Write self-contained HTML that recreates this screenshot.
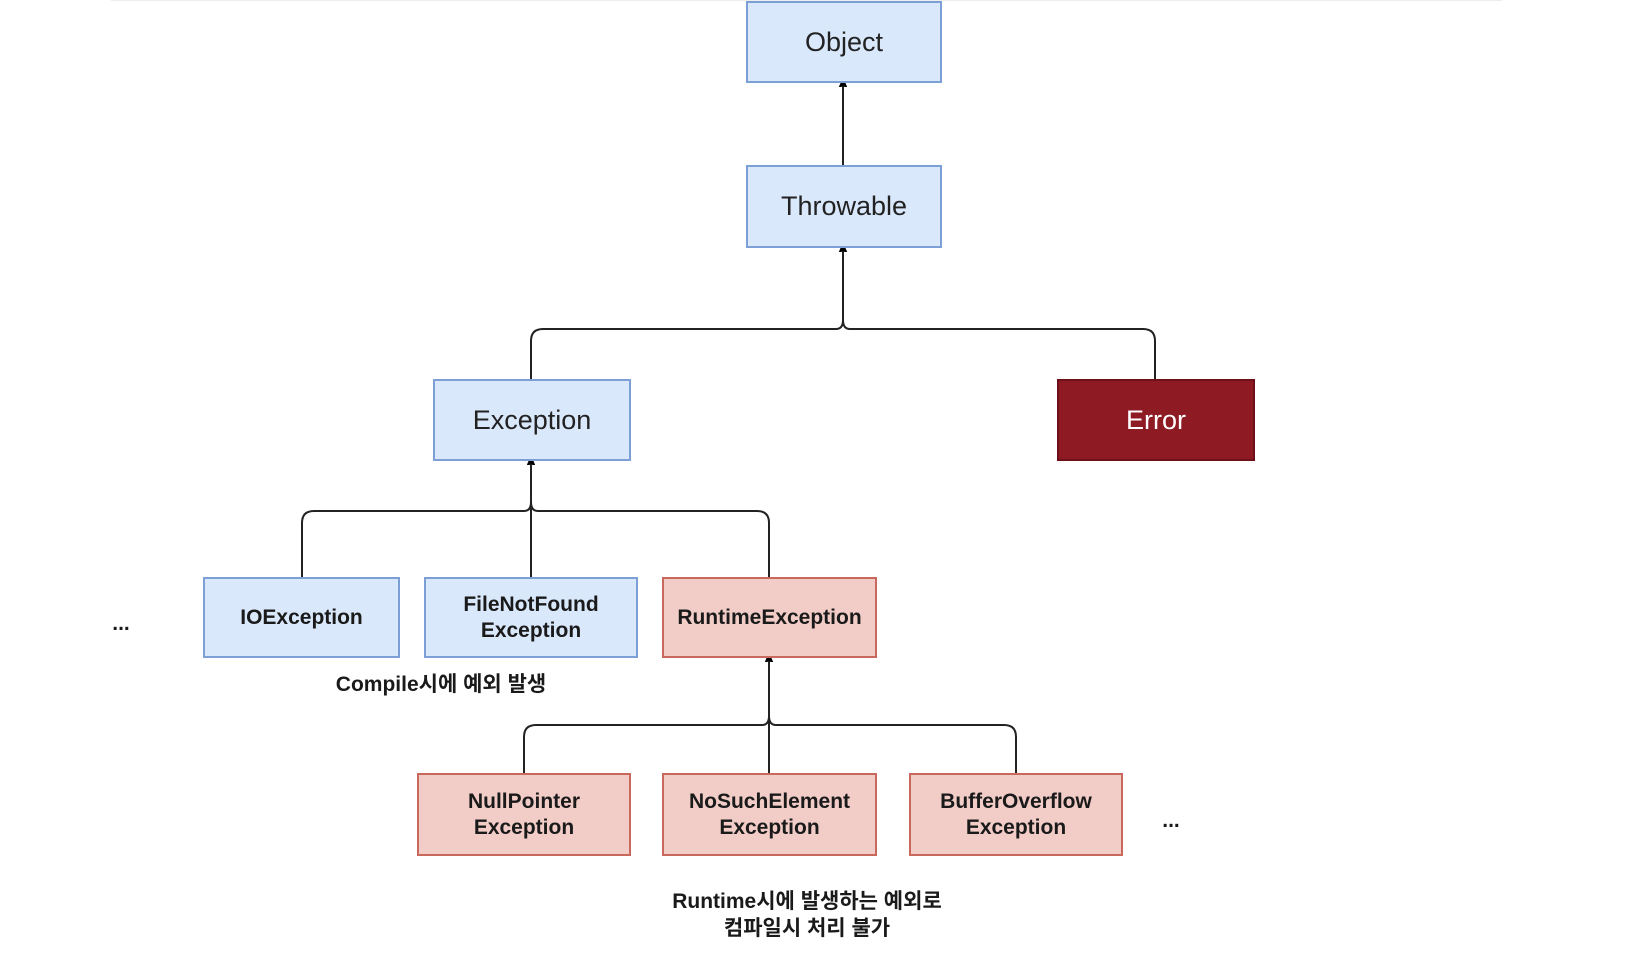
<!DOCTYPE html>
<html><head><meta charset="utf-8"><style>
html,body{margin:0;padding:0;background:#fff;}
body{width:1650px;height:970px;position:relative;overflow:hidden;font-family:"Liberation Sans","Noto Sans CJK KR",sans-serif;}
.n{position:absolute;box-sizing:border-box;display:flex;align-items:center;justify-content:center;text-align:center;color:#222;}
.b{background:#dae8fc;border:2px solid #7c9fd6;}
.r{background:#f2cdc8;border:2px solid #c9685c;}
.big{font-size:27px;}
.sm{font-size:21px;font-weight:bold;line-height:26px;color:#1a1a1a;}
.t{position:absolute;font-size:21px;font-weight:bold;color:#1a1a1a;text-align:center;line-height:27px;}
</style></head><body>
<div style="position:absolute;left:111px;top:0;width:1391px;height:1px;background:#eee"></div>
<svg width="1650" height="970" style="position:absolute;left:0;top:0">
<defs><marker id="a" markerWidth="10" markerHeight="10" refX="5" refY="9" orient="0" markerUnits="userSpaceOnUse"><path d="M0,12 L5,0 L10,12 L5,9 Z" fill="#000"/></marker></defs>
<g fill="none" stroke="#222" stroke-width="2">
<path d="M843,165 L843,86" marker-end="url(#a)"/>
<path d="M531,379 L531,341 Q531,329 543,329 L836,329 Q843,329 843,320 L843,251" marker-end="url(#a)"/>
<path d="M1155,379 L1155,341 Q1155,329 1143,329 L850,329 Q843,329 843,320"/>
<path d="M302,577 L302,523 Q302,511 314,511 L524,511 Q531,511 531,502 L531,464" marker-end="url(#a)"/>
<path d="M531,577 L531,502"/>
<path d="M769,577 L769,523 Q769,511 757,511 L538,511 Q531,511 531,502"/>
<path d="M524,773 L524,737 Q524,725 536,725 L762,725 Q769,725 769,716 L769,661" marker-end="url(#a)"/>
<path d="M769,773 L769,716"/>
<path d="M1016,773 L1016,737 Q1016,725 1004,725 L776,725 Q769,725 769,716"/>
</g></svg>
<div class="n b big" style="left:746px;top:1px;width:196px;height:82px">Object</div>
<div class="n b big" style="left:746px;top:165px;width:196px;height:83px">Throwable</div>
<div class="n b big" style="left:433px;top:379px;width:198px;height:82px">Exception</div>
<div class="n big" style="left:1057px;top:379px;width:198px;height:82px;background:#8e1a24;border:2px solid #6e1019;color:#fff">Error</div>
<div class="n b sm" style="left:203px;top:577px;width:197px;height:81px">IOException</div>
<div class="n b sm" style="left:424px;top:577px;width:214px;height:81px">FileNotFound<br>Exception</div>
<div class="n r sm" style="left:662px;top:577px;width:215px;height:81px">RuntimeException</div>
<div class="n r sm" style="left:417px;top:773px;width:214px;height:83px">NullPointer<br>Exception</div>
<div class="n r sm" style="left:662px;top:773px;width:215px;height:83px">NoSuchElement<br>Exception</div>
<div class="n r sm" style="left:909px;top:773px;width:214px;height:83px">BufferOverflow<br>Exception</div>
<div class="t" style="left:100px;top:610px;width:42px">...</div>
<div class="t" style="left:1150px;top:807px;width:42px">...</div>
<div class="t" style="left:291px;top:671px;width:300px">Compile시에 예외 발생</div>
<div class="t" style="left:607px;top:888px;width:400px">Runtime시에 발생하는 예외로<br>컴파일시 처리 불가</div>
</body></html>
